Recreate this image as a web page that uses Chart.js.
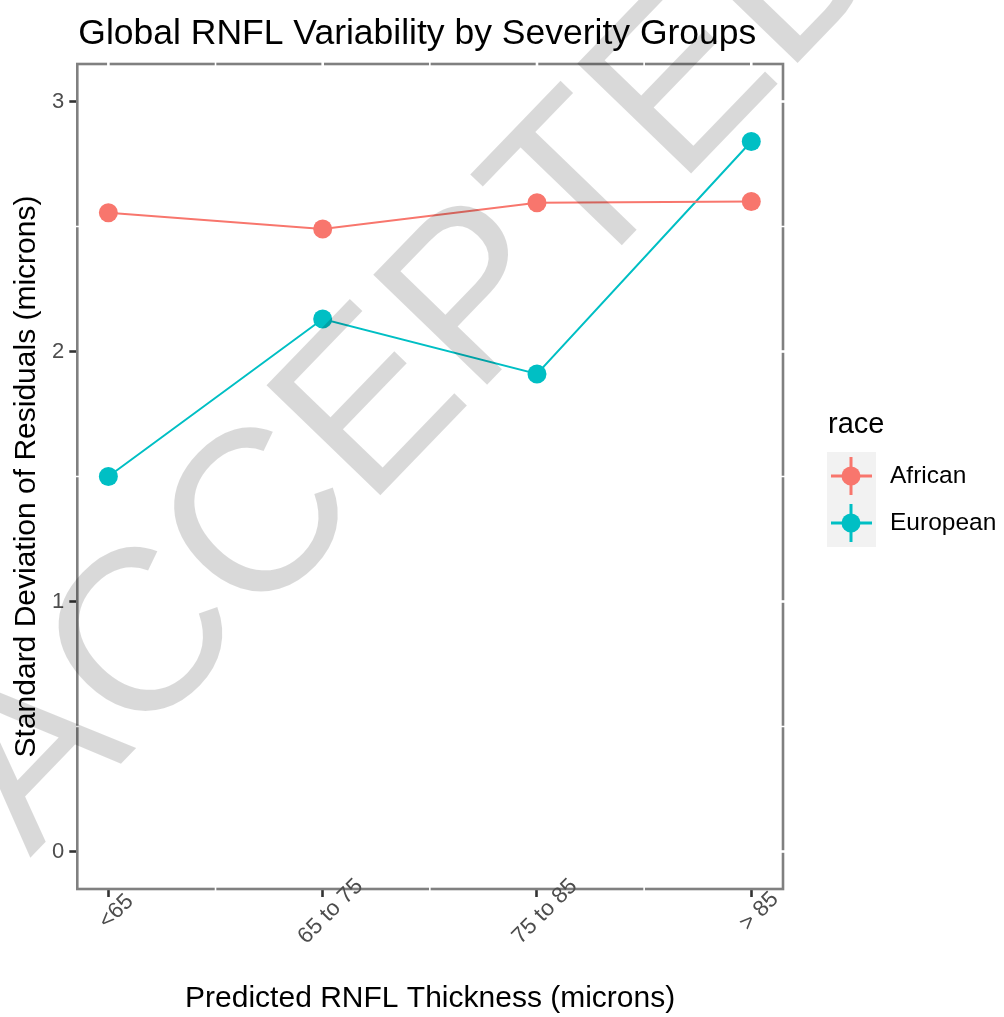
<!DOCTYPE html>
<html>
<head>
<meta charset="utf-8">
<script src="https://cdn.jsdelivr.net/npm/chart.js@4.4.1/dist/chart.umd.min.js"></script>
<style>
  html, body { margin: 0; padding: 0; background: #fff; }
  canvas { display: block; }
</style>
</head>
<body>
<canvas id="lineChart" width="1004" height="1017"></canvas>
<script>
const categories = ['<65', '65 to 75', '75 to 85', '> 85'];
const africanSd = [2.555, 2.49, 2.595, 2.60];
const europeanSd = [1.50, 2.13, 1.91, 2.84];
const yTicks = [0, 1, 2, 3];
const seriesNames = ['African', 'European'];
const seriesColors = ['#F8766D', '#00BFC4'];

const FONT = "'Liberation Sans', Arial, sans-serif";

function toPoints(values) {
    return values.map((v, i) => ({ x: i + 1, y: v }));
}

// panel border with white grid gaps, like the ggplot output
const panelPlugin = {
    id: 'panel',
    beforeDatasetsDraw(chart) {
        const { ctx, chartArea: a, scales } = chart;
        ctx.save();
        ctx.strokeStyle = '#808080';
        ctx.lineWidth = 2.6;
        ctx.strokeRect(a.left, a.top, a.right - a.left, a.bottom - a.top);

        ctx.strokeStyle = '#ffffff';
        for (let v = 0.5; v <= 4.5; v += 0.5) {
            const x = scales.x.getPixelForValue(v);
            if (x <= a.left + 2 || x >= a.right - 2) continue;
            const major = Number.isInteger(v);
            ctx.lineWidth = major ? 2.6 : 1.6;
            ctx.beginPath();
            ctx.moveTo(x, a.top - 3);
            ctx.lineTo(x, a.top + 3);
            if (!major) {
                ctx.moveTo(x, a.bottom - 3);
                ctx.lineTo(x, a.bottom + 3);
            }
            ctx.stroke();
        }
        for (let v = 0; v <= 3; v += 0.5) {
            const y = scales.y.getPixelForValue(v);
            const major = Number.isInteger(v);
            ctx.lineWidth = major ? 2.6 : 1.6;
            ctx.beginPath();
            ctx.moveTo(a.right - 3, y);
            ctx.lineTo(a.right + 3, y);
            if (!major) {
                ctx.moveTo(a.left - 3, y);
                ctx.lineTo(a.left + 3, y);
            }
            ctx.stroke();
        }
        ctx.restore();
    },
    afterDraw(chart) {
        const { ctx, chartArea: a, scales } = chart;
        ctx.save();
        // title
        ctx.fillStyle = '#000';
        ctx.font = '35.5px ' + FONT;
        ctx.textBaseline = 'alphabetic';
        ctx.fillText('Global RNFL Variability by Severity Groups', a.left + 1, 43.5);

        // x tick labels, rotated 45 and centred like ggplot's
        ctx.fillStyle = '#4d4d4d';
        ctx.font = '22.5px ' + FONT;
        ctx.textAlign = 'center';
        ctx.textBaseline = 'middle';
        scales.x.ticks.forEach((t) => {
            const x = scales.x.getPixelForValue(t.value);
            ctx.save();
            ctx.translate(x + 8, a.bottom + 22.5);
            ctx.rotate(-Math.PI / 4);
            ctx.fillText(categories[t.value - 1], 0, 0);
            ctx.restore();
        });
        ctx.textAlign = 'left';

        // legend
        ctx.fillStyle = '#000';
        ctx.font = '29px ' + FONT;
        ctx.fillText('race', 828, 425);
        ctx.fillStyle = '#f2f2f2';
        ctx.fillRect(827, 452, 49, 95);
        ctx.font = '24.5px ' + FONT;
        seriesNames.forEach((name, i) => {
            const cx = 851, cy = 476 + i * 47;
            ctx.strokeStyle = seriesColors[i];
            ctx.fillStyle = seriesColors[i];
            ctx.lineWidth = 3;
            ctx.beginPath();
            ctx.moveTo(cx - 20, cy); ctx.lineTo(cx + 21, cy);
            ctx.moveTo(cx, cy - 19); ctx.lineTo(cx, cy + 19);
            ctx.stroke();
            ctx.beginPath();
            ctx.arc(cx, cy, 9.5, 0, Math.PI * 2);
            ctx.fill();
            ctx.fillStyle = '#000';
            ctx.fillText(name, 890, cy);
        });

        // watermark
        ctx.translate(30, 858);
        ctx.rotate(-46 * Math.PI / 180);
        ctx.fillStyle = 'rgba(0, 0, 0, 0.15)';
        ctx.font = '230px ' + FONT;
        ctx.textBaseline = 'alphabetic';
        ctx.fillText('ACCEPTED', 0, 0);
        ctx.restore();
    }
};

const ctx = document.getElementById('lineChart');

new Chart(ctx, {
    type: 'line',
    data: {
        datasets: [
            {
                label: seriesNames[0],
                data: toPoints(africanSd),
                borderColor: seriesColors[0],
                backgroundColor: seriesColors[0],
                borderWidth: 2,
                pointRadius: 9.5,
                pointBorderWidth: 0,
                tension: 0
            },
            {
                label: seriesNames[1],
                data: toPoints(europeanSd),
                borderColor: seriesColors[1],
                backgroundColor: seriesColors[1],
                borderWidth: 2,
                pointRadius: 9.5,
                pointBorderWidth: 0,
                tension: 0
            }
        ]
    },
    options: {
        responsive: false,
        animation: false,
        layout: {
            padding: { top: 64, right: 221, left: 0, bottom: 0 }
        },
        plugins: {
            legend: { display: false },
            title: { display: false },
            tooltip: { enabled: false }
        },
        scales: {
            x: {
                type: 'linear',
                min: 0.855,
                max: 4.148,
                afterBuildTicks: (scale) => {
                    scale.ticks = categories.map((c, i) => ({ value: i + 1 }));
                },
                afterFit: (scale) => { scale.height = 128; },
                ticks: { display: false },
                grid: {
                    drawOnChartArea: false,
                    drawTicks: true,
                    tickLength: 8,
                    tickColor: '#333333',
                    tickWidth: 2.6
                },
                border: { display: false },
                title: {
                    display: true,
                    text: 'Predicted RNFL Thickness (microns)',
                    color: '#000',
                    font: { family: FONT, size: 30 },
                    padding: { top: 0, bottom: 0 }
                }
            },
            y: {
                min: -0.15,
                max: 3.15,
                afterBuildTicks: (scale) => {
                    scale.ticks = yTicks.map(v => ({ value: v }));
                },
                afterFit: (scale) => { scale.width = 77.3; },
                ticks: {
                    padding: 5,
                    color: '#4d4d4d',
                    font: { family: FONT, size: 22 }
                },
                grid: {
                    drawOnChartArea: false,
                    drawTicks: true,
                    tickLength: 8,
                    tickColor: '#333333',
                    tickWidth: 2.6
                },
                border: { display: false },
                title: {
                    display: true,
                    text: 'Standard Deviation of Residuals (microns)',
                    color: '#000',
                    font: { family: FONT, size: 30 },
                    padding: { top: 9, bottom: 0 }
                }
            }
        }
    },
    plugins: [panelPlugin]
});
</script>
</body>
</html>
